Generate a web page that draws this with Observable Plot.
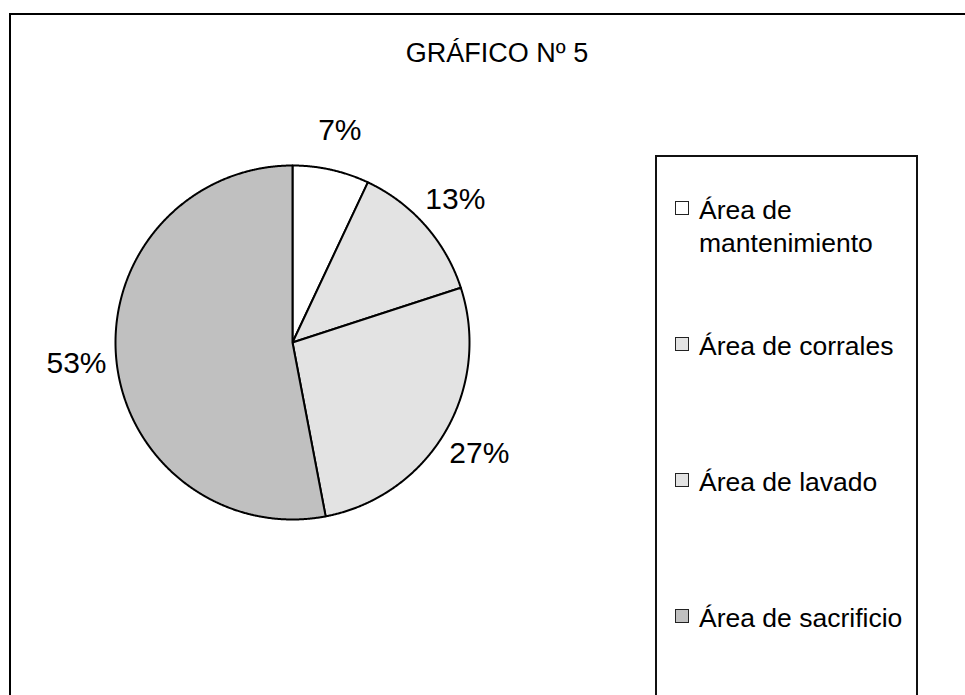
<!DOCTYPE html>
<html>
<head>
<meta charset="utf-8">
<script src="https://cdn.jsdelivr.net/npm/d3@7"></script>
<script src="https://cdn.jsdelivr.net/npm/@observablehq/plot@0.6"></script>
<style>
  html, body { margin: 0; padding: 0; background: #fff; }
  body { width: 965px; height: 695px; overflow: hidden; position: relative;
         font-family: "Liberation Sans", Arial, sans-serif; color: #000; }
  #frame { position: absolute; left: 9px; top: 13px; width: 1100px; height: 900px;
           border-left: 2px solid #000; border-top: 2px solid #000; box-sizing: border-box; }
  #title { position: absolute; left: 0; width: 994px; top: 40px; text-align: center;
           font-size: 27px; line-height: 27px; white-space: nowrap; }
  #pie { position: absolute; left: 12px; top: 62px; }
  #legend { position: absolute; left: 655px; top: 155px; width: 263px; height: 700px;
            border: 2px solid #111; box-sizing: border-box; }
  .item { position: absolute; left: 0; width: 260px; font-size: 26.5px; line-height: 33px; }
  .sw { position: absolute; left: 18px; width: 14px; height: 14px; box-sizing: border-box;
        border: 1.5px solid #222; }
  .tx { position: absolute; left: 42px; white-space: nowrap; }
</style>
</head>
<body>
<div id="frame"></div>
<div id="title">GRÁFICO Nº 5</div>
<div id="pie"></div>
<div id="legend"></div>
<script>
// ---- data ----
const categories = ["Área de mantenimiento", "Área de corrales", "Área de lavado", "Área de sacrificio"];
const legendLines = [["Área de", "mantenimiento"], ["Área de corrales"], ["Área de lavado"], ["Área de sacrificio"]];
const values = [7, 13, 27, 53];
const labels = ["7%", "13%", "27%", "53%"];
const colors = ["#ffffff", "#e3e3e3", "#e3e3e3", "#c0c0c0"];

// ---- geometry from data ----
const R = 177, LR = 217, HALF = 280;
const rows = categories.map((c, i) => ({cat: c, value: values[i], label: labels[i]}));
const arcs = d3.pie().sort(null).value(d => d.value)(rows);

const pts = [];
arcs.forEach(a => {
  const c = a.data.cat;
  pts.push({cat: c, x: 0, y: 0});
  const n = Math.max(8, Math.ceil((a.endAngle - a.startAngle) / (Math.PI / 720)));
  for (let k = 0; k <= n; k++) {
    const t = a.startAngle + (a.endAngle - a.startAngle) * k / n;
    pts.push({cat: c, x: R * Math.sin(t), y: R * Math.cos(t)});
  }
  pts.push({cat: c, x: 0, y: 0});
});
const labelRows = arcs.map(a => {
  const m = (a.startAngle + a.endAngle) / 2;
  return {label: a.data.label, x: LR * Math.sin(m), y: LR * Math.cos(m)};
});

const chart = Plot.plot({
  width: 2 * HALF, height: 2 * HALF,
  margin: 0,
  x: {axis: null, domain: [-HALF, HALF]},
  y: {axis: null, domain: [-HALF, HALF]},
  color: {domain: categories, range: colors},
  style: {background: "transparent", overflow: "visible", fontFamily: "'Liberation Sans', Arial, sans-serif"},
  marks: [
    Plot.line(pts, {x: "x", y: "y", z: "cat", fill: "cat", stroke: "#000", strokeWidth: 2, strokeLinejoin: "round"}),
    Plot.text(labelRows, {x: "x", y: "y", text: "label", fontSize: 30, fill: "#000"})
  ]
});
document.getElementById("pie").appendChild(chart);

// ---- legend ----
const legend = document.getElementById("legend");
categories.forEach((c, i) => {
  const item = document.createElement("div");
  item.className = "item";
  item.style.top = (37 + 136 * i) + "px";
  const sw = document.createElement("div");
  sw.className = "sw";
  sw.style.top = "7px";
  sw.style.background = colors[i];
  const tx = document.createElement("div");
  tx.className = "tx";
  tx.innerHTML = legendLines[i].join("<br>");
  item.appendChild(sw);
  item.appendChild(tx);
  legend.appendChild(item);
});
</script>
</body>
</html>
